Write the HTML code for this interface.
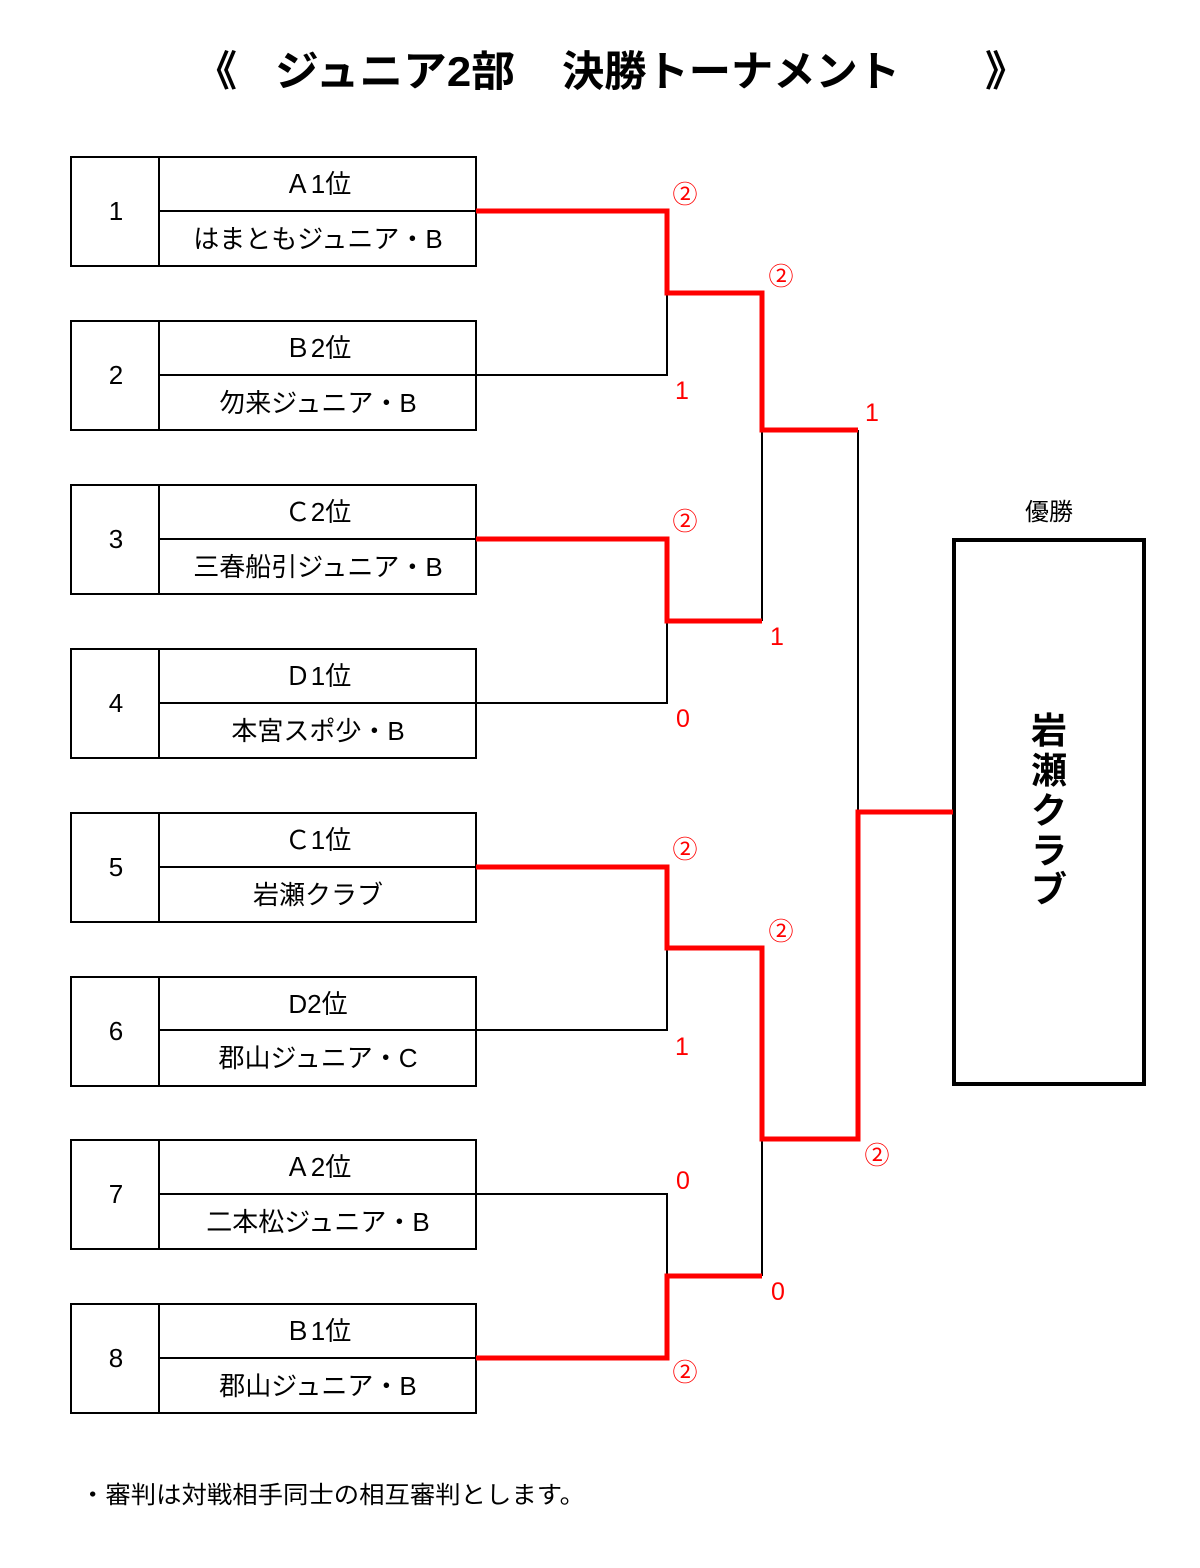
<!DOCTYPE html>
<html><head><meta charset="utf-8"><style>
html,body{margin:0;padding:0;background:#fff}
svg{display:block}
text{font-family:"Liberation Sans","Noto Sans CJK JP",sans-serif}
</style></head><body>
<svg width="1200" height="1568" viewBox="0 0 1200 1568" xmlns="http://www.w3.org/2000/svg">
<g font-size="42" font-weight="bold" fill="#000">
<text x="195" y="86">《</text>
<text x="275" y="86" textLength="240" lengthAdjust="spacingAndGlyphs">ジュニア2部</text>
<text x="562" y="86" textLength="338" lengthAdjust="spacingAndGlyphs">決勝トーナメント</text>
<text x="985" y="86">》</text>
</g>
<g fill="none" stroke="#000" stroke-width="2">
<rect x="71" y="157" width="405" height="109"/><line x1="159" y1="157" x2="159" y2="266"/><line x1="159" y1="211" x2="476" y2="211"/>
<rect x="71" y="321" width="405" height="109"/><line x1="159" y1="321" x2="159" y2="430"/><line x1="159" y1="375" x2="476" y2="375"/>
<rect x="71" y="485" width="405" height="109"/><line x1="159" y1="485" x2="159" y2="594"/><line x1="159" y1="539" x2="476" y2="539"/>
<rect x="71" y="649" width="405" height="109"/><line x1="159" y1="649" x2="159" y2="758"/><line x1="159" y1="703" x2="476" y2="703"/>
<rect x="71" y="813" width="405" height="109"/><line x1="159" y1="813" x2="159" y2="922"/><line x1="159" y1="867" x2="476" y2="867"/>
<rect x="71" y="977" width="405" height="109"/><line x1="159" y1="977" x2="159" y2="1086"/><line x1="159" y1="1030" x2="476" y2="1030"/>
<rect x="71" y="1140" width="405" height="109"/><line x1="159" y1="1140" x2="159" y2="1249"/><line x1="159" y1="1194" x2="476" y2="1194"/>
<rect x="71" y="1304" width="405" height="109"/><line x1="159" y1="1304" x2="159" y2="1413"/><line x1="159" y1="1358" x2="476" y2="1358"/>
<polyline points="476,375 667,375 667,293"/>
<polyline points="476,703 667,703 667,621"/>
<polyline points="476,1030 667,1030 667,948"/>
<polyline points="476,1194 667,1194 667,1276"/>
<line x1="762" y1="430" x2="762" y2="621"/>
<line x1="762" y1="1139" x2="762" y2="1276"/>
<line x1="858" y1="430" x2="858" y2="812"/>
</g>
<rect x="954" y="540" width="190" height="544" fill="none" stroke="#000" stroke-width="4"/>
<g fill="none" stroke="#f00" stroke-width="5" stroke-linejoin="miter">
<polyline points="476,211 667,211 667,293 762,293 762,430 858,430"/>
<polyline points="476,539 667,539 667,621 762,621"/>
<polyline points="476,867 667,867 667,948 762,948 762,1139 858,1139 858,812 953,812"/>
<polyline points="476,1358 667,1358 667,1276 762,1276"/>
</g>
<g font-size="26" fill="#000" text-anchor="middle">
<text x="116" y="220">1</text><text x="318" y="193">Ａ1位</text><text x="318" y="248">はまともジュニア・B</text>
<text x="116" y="384">2</text><text x="318" y="357">Ｂ2位</text><text x="318" y="412">勿来ジュニア・B</text>
<text x="116" y="548">3</text><text x="318" y="521">Ｃ2位</text><text x="318" y="576">三春船引ジュニア・B</text>
<text x="116" y="712">4</text><text x="318" y="685">Ｄ1位</text><text x="318" y="740">本宮スポ少・B</text>
<text x="116" y="876">5</text><text x="318" y="849">Ｃ1位</text><text x="318" y="904">岩瀬クラブ</text>
<text x="116" y="1040">6</text><text x="318" y="1013">D2位</text><text x="318" y="1067">郡山ジュニア・C</text>
<text x="116" y="1203">7</text><text x="318" y="1176">Ａ2位</text><text x="318" y="1231">二本松ジュニア・B</text>
<text x="116" y="1367">8</text><text x="318" y="1340">Ｂ1位</text><text x="318" y="1395">郡山ジュニア・B</text>
</g>
<text x="1049" y="520" font-size="24" text-anchor="middle">優勝</text>
<g font-size="36" font-weight="bold" text-anchor="middle">
<text x="1049" y="743">岩</text><text x="1049" y="783">瀬</text><text x="1049" y="823">ク</text><text x="1049" y="863">ラ</text><text x="1049" y="902">ブ</text>
</g>
<g font-size="25" fill="#f00" text-anchor="middle">
<text x="685" y="203">②</text><text x="682" y="399">1</text>
<text x="781" y="285">②</text><text x="872" y="421">1</text>
<text x="685" y="530">②</text><text x="777" y="645">1</text><text x="683" y="727">0</text>
<text x="685" y="858">②</text><text x="781" y="940">②</text><text x="682" y="1055">1</text>
<text x="683" y="1189">0</text><text x="877" y="1164">②</text><text x="778" y="1300">0</text>
<text x="685" y="1381">②</text>
</g>
<text x="80" y="1503" font-size="24" textLength="505" lengthAdjust="spacingAndGlyphs">・審判は対戦相手同士の相互審判とします。</text>
</svg>
</body></html>
